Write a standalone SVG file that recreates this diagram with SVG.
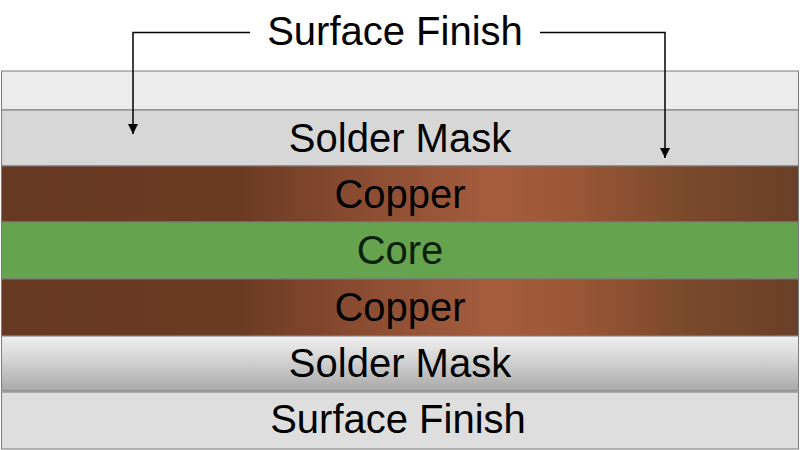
<svg xmlns="http://www.w3.org/2000/svg" width="800" height="450" viewBox="0 0 800 450">
<defs>
<linearGradient id="cu" x1="0" y1="0" x2="1" y2="0">
<stop offset="0" stop-color="#673822"/>
<stop offset="0.3" stop-color="#6c3b24"/>
<stop offset="0.45" stop-color="#8a4c31"/>
<stop offset="0.62" stop-color="#a55d3d"/>
<stop offset="0.72" stop-color="#9a5736"/>
<stop offset="0.85" stop-color="#7c4a2c"/>
<stop offset="1" stop-color="#6a3f28"/>
</linearGradient>
<linearGradient id="smb" x1="0" y1="0" x2="0" y2="1">
<stop offset="0" stop-color="#f0f0f0"/>
<stop offset="0.45" stop-color="#d2d2d2"/>
<stop offset="1" stop-color="#a8a8a8"/>
</linearGradient>
<marker id="ah" viewBox="0 0 10 10" refX="10" refY="5" markerWidth="10" markerHeight="10" markerUnits="userSpaceOnUse" orient="auto">
<path d="M0,0 L10,5 L0,10 z" fill="#000"/>
</marker>
</defs>
<style>
.lbl{font-family:"Liberation Sans",Arial,sans-serif;font-size:40px;fill:#000;text-anchor:middle}
.ly{stroke:#7a7a7a;stroke-width:1}
.cn{fill:none;stroke:#000;stroke-width:1.5}
</style>
<rect width="800" height="450" fill="#fff"/>
<g id="surface-finish-top">
<rect class="ly" x="1.5" y="71" width="797" height="39" fill="#ececec"/>
</g>
<g id="solder-mask-top">
<rect class="ly" x="1.5" y="110" width="797" height="56" fill="#d7d7d7"/>
<text class="lbl" x="400" y="152">Solder Mask</text>
</g>
<g id="copper-top">
<rect class="ly" x="1.5" y="166" width="797" height="56" fill="url(#cu)"/>
<text class="lbl" x="400" y="208">Copper</text>
</g>
<g id="core">
<rect class="ly" x="1.5" y="222" width="797" height="57" fill="#66a34f"/>
<text class="lbl" x="400" y="264" style="fill:#0b200b">Core</text>
</g>
<g id="copper-bottom">
<rect class="ly" x="1.5" y="279" width="797" height="57" fill="url(#cu)"/>
<text class="lbl" x="400" y="321">Copper</text>
</g>
<g id="solder-mask-bottom">
<rect class="ly" x="1.5" y="336" width="797" height="55" fill="url(#smb)"/>
<text class="lbl" x="400" y="377">Solder Mask</text>
</g>
<g id="surface-finish-bottom">
<rect class="ly" x="1.5" y="392" width="797" height="57" fill="#dedede"/>
<text class="lbl" x="398" y="433">Surface Finish</text>
</g>
<g id="title">
<text class="lbl" x="395" y="45">Surface Finish</text>
</g>
<g id="connectors">
<path class="cn" d="M250,32.5 H133 V134" marker-end="url(#ah)"/>
<path class="cn" d="M540,32.5 H665 V158" marker-end="url(#ah)"/>
</g>
</svg>
